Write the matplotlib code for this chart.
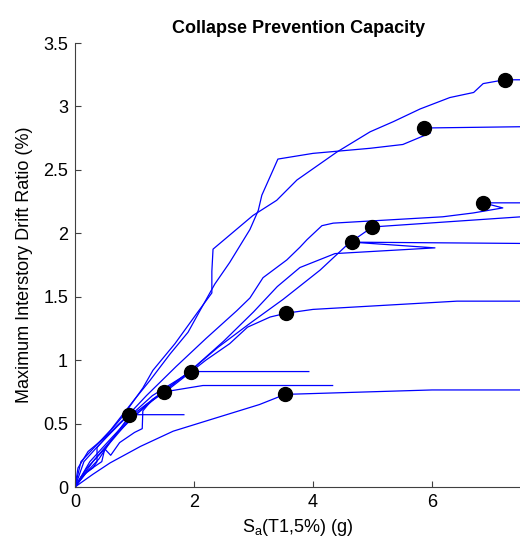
import numpy as np
import matplotlib
matplotlib.use("Agg")
import matplotlib.pyplot as plt

plt.rcParams['font.family'] = ['Liberation Sans', 'DejaVu Sans']
plt.rcParams['mathtext.fontset'] = 'custom'
plt.rcParams['mathtext.rm'] = 'Liberation Sans'

# IDA curves: Sa(T1,5%) (g) vs max interstory drift ratio (%)
c1_x = [0, 0.1, 0.3, 0.37, 0.37, 0.5, 0.7, 0.9, 1.83]
c1_y = [0, 0.08, 0.15, 0.2, 0.31, 0.38, 0.48, 0.57, 0.57]

c2_x = [0, 0.2, 0.45, 0.5, 0.6, 0.75, 1.0, 1.13, 1.14, 1.3, 1.5, 2.15, 4.33]
c2_y = [0, 0.12, 0.2, 0.3, 0.25, 0.35, 0.43, 0.46, 0.6, 0.69, 0.75, 0.80, 0.80]

c3_x = [0, 0.2, 0.4, 0.6, 0.9, 1.3, 1.95, 3.93]
c3_y = [0, 0.12, 0.22, 0.36, 0.55, 0.72, 0.91, 0.91]

c4_x = [0, 0.3, 0.59, 1.1, 1.65, 2.27, 3.1, 3.53, 6.0, 7.5]
c4_y = [0, 0.1, 0.19, 0.32, 0.44, 0.53, 0.65, 0.73, 0.765, 0.765]

c5_x = [0, 0.3, 0.7, 1.2, 1.6, 2.2, 2.6, 2.9, 3.28, 3.55, 4.0, 6.42, 7.5]
c5_y = [0, 0.2, 0.42, 0.65, 0.78, 1.0, 1.13, 1.26, 1.34, 1.37, 1.40, 1.465, 1.465]

c6_x = [0, 0.2, 0.5, 0.9, 1.3, 1.95, 2.5, 3.0, 3.4, 3.78, 4.37, 6.05, 4.66, 7.5]
c6_y = [0, 0.15, 0.3, 0.52, 0.68, 0.92, 1.15, 1.38, 1.58, 1.73, 1.84, 1.885, 1.93, 1.92]

c7_x = [0, 0.25, 0.6, 1.0, 1.5, 1.95, 2.4, 2.94, 3.5, 4.12, 4.6, 5.0, 7.5]
c7_y = [0, 0.2, 0.38, 0.58, 0.76, 0.92, 1.1, 1.29, 1.48, 1.71, 1.92, 2.05, 2.13]

c8_x = [0, 0.15, 0.4, 0.8, 1.2, 1.7, 2.2, 2.72, 2.94, 3.16, 3.56, 3.78, 3.9,
        4.15, 4.34, 6.18, 6.69, 7.19, 6.86, 7.5]
c8_y = [0, 0.2, 0.33, 0.52, 0.72, 0.95, 1.17, 1.39, 1.49, 1.65, 1.79, 1.89, 1.95,
        2.06, 2.08, 2.13, 2.16, 2.20, 2.24, 2.24]

c9_x = [0, 0.1, 0.3, 0.6, 1.0, 1.26, 1.6, 1.9, 2.1, 2.35, 2.6, 2.94, 3.08, 3.14,
        3.33, 3.41, 4.0, 4.96, 5.51, 5.97, 5.87, 7.5]
c9_y = [0, 0.2, 0.3, 0.45, 0.69, 0.84, 1.05, 1.22, 1.39, 1.6, 1.77, 2.03, 2.18, 2.3,
        2.5, 2.585, 2.63, 2.67, 2.70, 2.79, 2.83, 2.84]

c10_x = [0, 0.05, 0.22, 0.5, 0.79, 1.14, 1.31, 1.68, 2.05, 2.3, 2.3, 2.32, 2.99,
         3.39, 3.73, 4.4, 4.96, 5.35, 5.8, 6.3, 6.7, 6.86, 7.22, 7.5]
c10_y = [0, 0.15, 0.28, 0.39, 0.55, 0.78, 0.92, 1.13, 1.37, 1.53, 1.7, 1.875, 2.14,
         2.26, 2.42, 2.64, 2.80, 2.88, 2.98, 3.07, 3.11, 3.18, 3.21, 3.21]

curves_x = [c1_x, c2_x, c3_x, c4_x, c5_x, c6_x, c7_x, c8_x, c9_x, c10_x]
curves_y = [c1_y, c2_y, c3_y, c4_y, c5_y, c6_y, c7_y, c8_y, c9_y, c10_y]

# collapse prevention points
cp_x = [0.9, 1.5, 1.95, 3.53, 3.55, 4.66, 5.0, 6.86, 5.87, 7.22]
cp_y = [0.57, 0.75, 0.91, 0.73, 1.37, 1.93, 2.05, 2.24, 2.83, 3.21]

fig = plt.figure(figsize=(5.2, 5.43), dpi=100)
ax = fig.add_axes([75/520, 56/543, 7.5*59.5/520, 444/543])

for x, y in zip(curves_x, curves_y):
    ax.plot(x, y, color='#0000ff', lw=0.9)
ax.plot(cp_x, cp_y, 'o', color='black', markersize=10, zorder=5)

ax.set_xlim(0, 7.5)
ax.set_ylim(0, 3.5)
ax.set_xticks([0, 2, 4, 6])
ax.set_yticks(np.arange(0, 3.51, 0.5))
ax.set_yticklabels(['0', '0.5', '1', '1.5', '2', '2.5', '3', '3.5'])
ax.tick_params(direction='in', length=4, width=0.8, labelsize=13, pad=5, colors='#404040', labelcolor='black')
for s in ['top', 'right']:
    ax.spines[s].set_visible(False)
for s in ['left', 'bottom']:
    ax.spines[s].set_color('#404040')
    ax.spines[s].set_linewidth(0.8)

ax.set_title('Collapse Prevention Capacity', fontsize=13, fontweight='bold', pad=7)
ax.set_ylabel('Maximum Interstory Drift Ratio (%)', fontsize=13, labelpad=7)
ax.set_xlabel(r'S$_{\mathregular{a}}$(T1,5%) (g)', fontsize=13, labelpad=4)

fig.savefig('out.png', dpi=100)
